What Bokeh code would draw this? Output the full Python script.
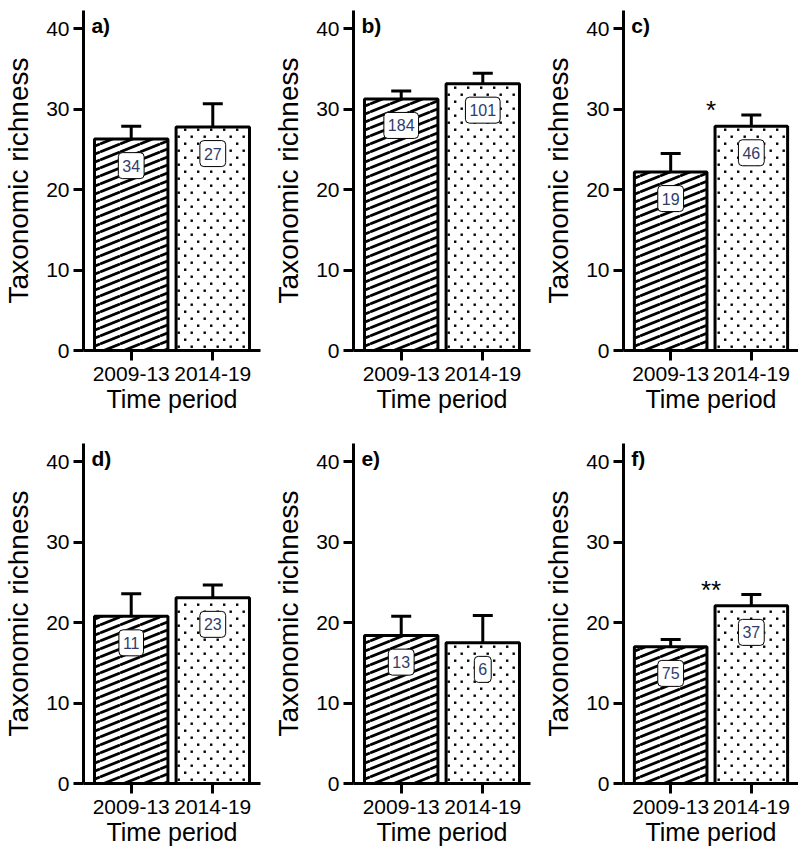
import base64
from bokeh.plotting import figure
from bokeh.layouts import column, row
from bokeh.models import (FactorRange, Range1d, FixedTicker, Whisker, TeeHead,
                          ColumnDataSource, Label, ImageURLTexture)
from bokeh.transform import dodge
from bokeh.core.properties import value
from bokeh.embed import file_html
from bokeh.resources import INLINE

# ---- data ----
periods = ["2009-13", "2014-19"]
panel_tags = ["a)", "b)", "c)", "d)", "e)", "f)"]
richness_0913 = [26.3, 31.3, 22.2, 20.8, 18.4, 17.0]
richness_1419 = [27.8, 33.2, 27.9, 23.1, 17.5, 22.1]
upper_0913 = [27.9, 32.3, 24.5, 23.6, 20.8, 17.9]
upper_1419 = [30.7, 34.5, 29.3, 24.7, 20.9, 23.5]
n_0913 = ["34", "184", "19", "11", "13", "75"]
n_1419 = ["27", "101", "46", "23", "6", "37"]
signif = ["", "", "*", "", "", "**"]
y_ticks = [0, 10, 20, 30, 40]
y_max = 42.3

FONT = "Liberation Sans"


def svg_tile(w, h, body):
    svg = (f'<svg xmlns="http://www.w3.org/2000/svg" width="{w}" height="{h}" '
           f'viewBox="0 0 {w} {h}">{body}</svg>')
    return "data:image/svg+xml;base64," + base64.b64encode(svg.encode()).decode()


# shallow diagonal stripes (tile 20 x 8) and staggered dots (tile 13 x 14)
SW, SH = 20, 8
stripe_body = "".join(
    f'<line x1="0" y1="{SH + dy}" x2="{SW}" y2="{dy}" stroke="black" '
    f'stroke-width="2.8"/>' for dy in (-SH, 0, SH))
DW, DH = 13, 14
dot_body = (f'<rect x="2" y="2.5" width="2.4" height="2.4" fill="black"/>'
            f'<rect x="8.5" y="9.5" width="2.4" height="2.4" fill="black"/>')
textures = {
    "stripes": ImageURLTexture(url=svg_tile(SW, SH, stripe_body), repetition="repeat"),
    "dots": ImageURLTexture(url=svg_tile(DW, DH, dot_body), repetition="repeat"),
}


def make_panel(i, width, height, border_bottom, border_right):
    p = figure(x_range=FactorRange(*periods, range_padding=0.085,
                                   range_padding_units="absolute"),
               y_range=Range1d(0, y_max), width=width, height=height,
               output_backend="svg", toolbar_location=None,
               min_border_left=82, min_border_right=border_right,
               min_border_top=10, min_border_bottom=border_bottom)
    p.outline_line_color = None
    p.grid.visible = False
    p.background_fill_color = "white"
    p.border_fill_color = "white"

    vals = [richness_0913[i], richness_1419[i]]
    ups = [upper_0913[i], upper_1419[i]]
    src = ColumnDataSource(dict(
        period=periods,
        val=vals,
        up=ups,
        n=[n_0913[i], n_1419[i]],
        lab_y=[v - 3.3 for v in vals],
        hatch=["stripes", "dots"],
    ))

    p.vbar(x="period", top="val", width=0.9, source=src,
           fill_color="white", line_color="black", line_width=3,
           hatch_pattern="hatch", hatch_extra=textures)

    w = Whisker(source=src, base="period", upper="up", lower="val",
                dimension="height", line_width=3, line_color="black",
                upper_head=TeeHead(size=20, line_width=3, line_color="black"),
                lower_head=None, level="overlay")
    p.add_layout(w)

    p.text(x="period", y="lab_y", text="n", source=src,
           text_align="center", text_baseline="middle",
           text_font=value(FONT), text_font_size="16px",
           text_color="#303c6c",
           background_fill_color="white", border_line_color="black",
           border_line_width=1, border_radius=4, padding=(4, 7))

    if signif[i]:
        ssrc = ColumnDataSource(dict(period=[periods[1]],
                                     y=[upper_1419[i] + 0.6],
                                     t=[signif[i]]))
        p.text(x=dodge("period", -0.5, range=p.x_range), y="y", text="t",
               source=ssrc, text_align="center", text_baseline="middle",
               text_font=value(FONT), text_font_size="26px",
               text_color="black")

    p.add_layout(Label(x=0.0, y=y_max, text=panel_tags[i],
                       text_baseline="top", text_align="left",
                       text_font=FONT, text_font_style="bold",
                       text_font_size="21px", text_color="black",
                       y_offset=-3, x_offset=1))

    for ax in (p.xaxis[0], p.yaxis[0]):
        ax.axis_line_width = 3
        ax.axis_line_color = "black"
        ax.major_tick_line_width = 3
        ax.major_tick_line_color = "black"
        ax.major_tick_out = 10
        ax.major_tick_in = 0
        ax.minor_tick_line_color = None
        ax.major_label_text_font = FONT
        ax.major_label_text_font_size = "21px"
        ax.major_label_text_color = "black"
        ax.axis_label_text_font = FONT
        ax.axis_label_text_font_style = "normal"
        ax.axis_label_text_color = "black"

    p.yaxis.ticker = FixedTicker(ticks=y_ticks)
    p.yaxis.axis_label = "Taxonomic richness"
    p.yaxis.axis_label_text_font_size = "28px"
    p.yaxis.axis_label_standoff = 9
    p.yaxis.major_label_standoff = 4

    p.xaxis.axis_label = "Time period"
    p.xaxis.axis_label_text_font_size = "25px"
    p.xaxis.axis_label_standoff = 1
    p.xaxis.major_label_standoff = 6
    return p


top = [make_panel(0, 270, 433, 83, 10),
       make_panel(1, 270, 433, 83, 10),
       make_panel(2, 258, 433, 83, 0)]
bottom = [make_panel(3, 270, 418, 68, 10),
          make_panel(4, 270, 418, 68, 10),
          make_panel(5, 258, 418, 68, 0)]

layout = column(row(*top), row(*bottom))

open("out.html", "w").write(file_html(layout, INLINE))
